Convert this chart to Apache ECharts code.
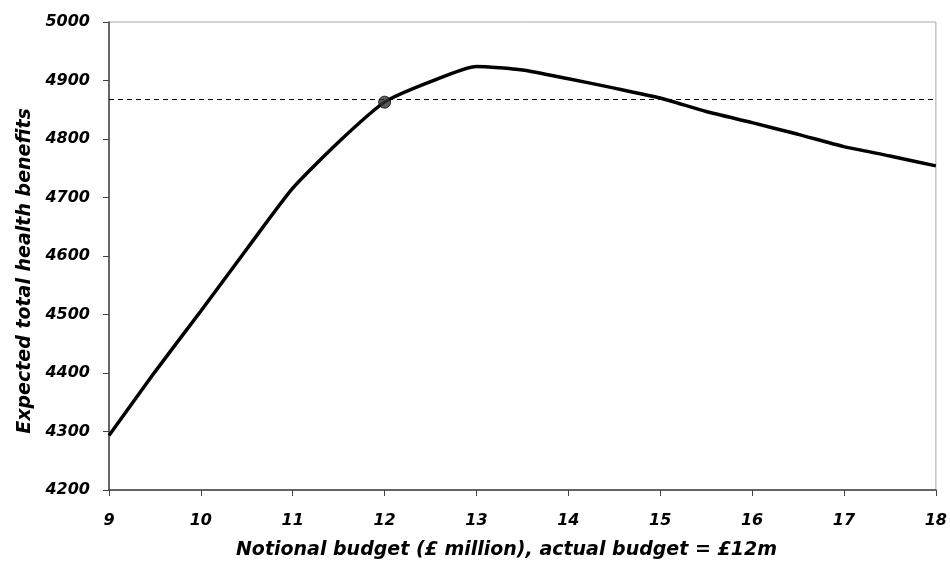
<!DOCTYPE html>
<html><head><meta charset="utf-8">
<script src="https://cdn.jsdelivr.net/npm/echarts@6/dist/echarts.min.js"></script>
<style>html,body{margin:0;padding:0;background:#fff}#c{width:950px;height:568px}</style>
</head><body><div id="c"></div>
<script>
const budget = [9, 9.5, 10, 10.5, 11, 11.5, 12, 12.5, 13, 13.5, 14, 14.5, 15, 15.5, 16, 16.5, 17, 17.5, 18];
const benefits = [4293, 4402, 4506, 4612, 4716, 4795, 4863, 4898, 4924, 4918, 4903, 4887, 4870, 4847, 4828, 4808, 4787, 4771, 4754];
const actualBudget = [12];
const actualBenefit = [4863];
const referenceLevel = 4868;
const yTicks = [4200, 4300, 4400, 4500, 4600, 4700, 4800, 4900, 5000];
const xTicks = [9, 10, 11, 12, 13, 14, 15, 16, 17, 18];

const FONT = 'DejaVu Sans';
const chart = echarts.init(document.getElementById('c'), null, {renderer: 'canvas'});
const labelStyle = {fontFamily: FONT, fontWeight: 'bold', fontStyle: 'italic', fontSize: 16, color: '#000'};
chart.setOption({
  animation: false,
  grid: {left: 109, right: 11, top: 22, bottom: 78, show: true, borderColor: '#a6a6a6', borderWidth: 1},
  xAxis: {
    type: 'value', min: xTicks[0], max: xTicks[xTicks.length - 1], interval: 1,
    name: 'Notional budget (£ million), actual budget = £12m',
    nameLocation: 'middle', nameGap: 51,
    nameTextStyle: Object.assign({}, labelStyle, {fontSize: 19, padding: [0, 32, 0, 0]}),
    axisLine: {show: true, onZero: false, lineStyle: {color: '#404040', width: 1.5}},
    axisTick: {show: true, length: 6, lineStyle: {color: '#404040'}},
    axisLabel: Object.assign({}, labelStyle, {margin: 23, formatter: v => String(v)}),
    splitLine: {show: false}
  },
  yAxis: {
    type: 'value', min: yTicks[0], max: yTicks[yTicks.length - 1], interval: 100,
    name: 'Expected total health benefits',
    nameLocation: 'middle', nameGap: 73,
    nameTextStyle: Object.assign({}, labelStyle, {fontSize: 19, padding: [0, 30, 0, 0]}),
    axisLine: {show: true, onZero: false, lineStyle: {color: '#404040', width: 1.5}},
    axisTick: {show: true, length: 6, lineStyle: {color: '#404040'}},
    axisLabel: Object.assign({}, labelStyle, {margin: 19, formatter: v => String(v)}),
    splitLine: {show: false}
  },
  series: [
    {
      type: 'line', data: budget.map((b, i) => [b, benefits[i]]),
      smooth: 0.2, showSymbol: false, clip: false,
      lineStyle: {color: '#000', width: 3.5},
      markLine: {
        silent: true, symbol: 'none', label: {show: false},
        lineStyle: {color: '#000', type: [5, 4], width: 1},
        data: [{yAxis: referenceLevel}]
      },
      z: 3
    },
    {
      type: 'scatter', data: actualBudget.map((b, i) => [b, actualBenefit[i]]),
      symbol: 'circle', symbolSize: 12,
      itemStyle: {color: '#333', borderColor: '#000', borderWidth: 1},
      z: 5
    }
  ]
});
</script></body></html>
